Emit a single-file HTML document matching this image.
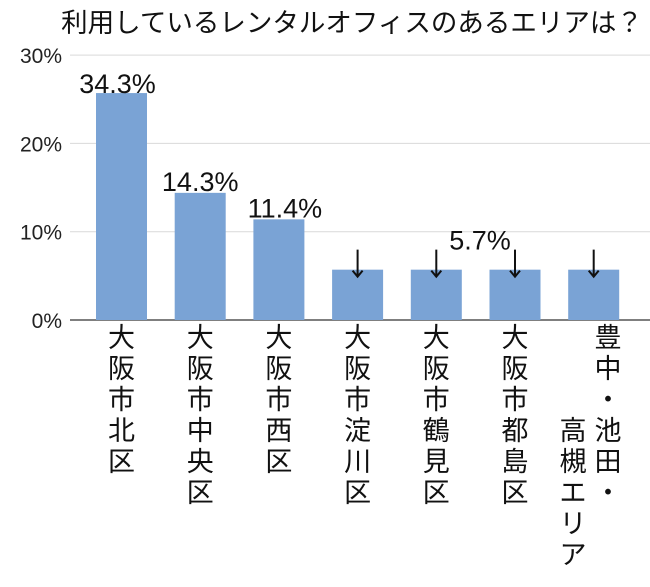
<!DOCTYPE html>
<html><head><meta charset="utf-8">
<style>
body{margin:0;background:#fff;}
svg text{font-family:"Liberation Sans","Noto Sans CJK JP",sans-serif;}
</style></head>
<body>
<svg width="650" height="582" id="chart">
<text x="352" y="32" font-size="26.5" text-anchor="middle" fill="#111">利用しているレンタルオフィスのあるエリアは？</text>
</svg>
<script>
const categories=["大阪市北区","大阪市中央区","大阪市西区","大阪市淀川区","大阪市鶴見区","大阪市都島区","豊中・池田・|高槻エリア"];
const values=[25.7,14.4,11.4,5.7,5.7,5.7,5.7];
const valueLabels=["34.3%","14.3%","11.4%","","5.7%","",""];
const arrows=[false,false,false,true,true,true,true];
const ticks=[0,10,20,30];
const svg=document.getElementById('chart');
const NS="http://www.w3.org/2000/svg";
const x0=70,x1=650,y0=320,pxPer=8.83,step=78.7,bw=51,firstX=96;
const y=v=>y0-v*pxPer;
const xc=i=>firstX+bw/2+i*step;
function mk(t,a){const e=document.createElementNS(NS,t);for(const k in a)e.setAttribute(k,a[k]);svg.appendChild(e);return e;}
ticks.forEach(t=>{
 const l=mk('line',{x1:x0,x2:x1,y1:y(t),y2:y(t),stroke:t===0?'#555':'#d9d9d9','stroke-width':t===0?1.5:1});
 
 
 const tx=mk('text',{x:62,y:y(t)+8,'font-size':21,'text-anchor':'end',fill:'#222'});tx.textContent=t+'%';
 
 
});
values.forEach((v,i)=>{
 const r=mk('rect',{x:xc(i)-bw/2,y:y(v),width:bw,height:y0-y(v),fill:'#7aa3d5'});
 
 
 if(valueLabels[i]){
  const t=mk('text',{x:i===4?480:xc(i)+(i===2?6:(i===0?-4:0)),y:i===4?y(v)-20:y(v)+(i===0?0:-2),'font-size':27,'text-anchor':'middle',fill:'#111'});t.textContent=valueLabels[i];
  
  
 }
 if(arrows[i]){
  const a=mk('path',{d:`M${xc(i)} ${y(v)-20}V${y(v)+7}M${xc(i)-5} ${y(v)+1}L${xc(i)} ${y(v)+7}L${xc(i)+5} ${y(v)+1}`,stroke:'#111','stroke-width':2,fill:'none'});
  
  
 }
 const cols=categories[i].split('|');
 cols.forEach((c,ci)=>{
  const cx=cols.length>1?(ci===0?608:573):xc(i);
  const startRow=(cols.length>1&&ci===1)?3:0;
  [...c].forEach((ch,k)=>{
   const t=mk('text',{x:cx,y:338+9+(startRow+k)*31,'font-size':27,'text-anchor':'middle',fill:'#111'});t.textContent=ch;
   
   
  });
 });
});
</script>
</body></html>
